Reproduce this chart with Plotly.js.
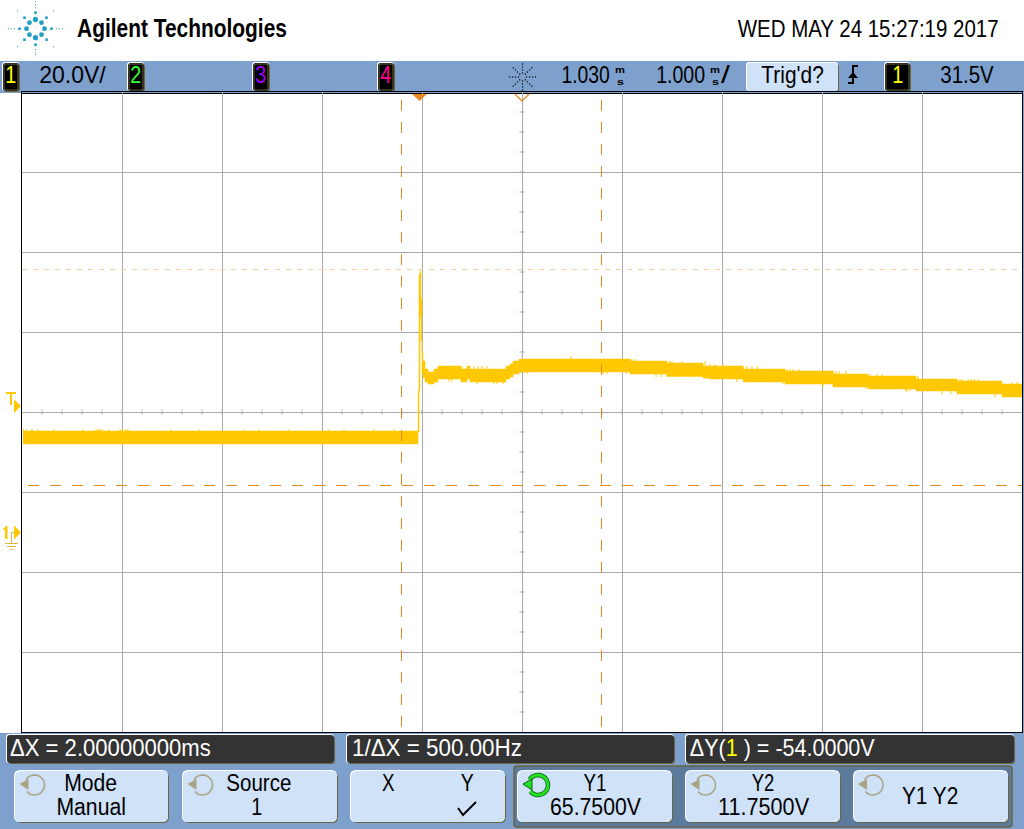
<!DOCTYPE html>
<html><head><meta charset="utf-8">
<script src="https://cdn.plot.ly/plotly-3.0.1.min.js"></script>
<style>html,body{margin:0;padding:0;background:#fff}#c{width:1024px;height:829px}</style>
</head><body><div id="c"></div>
<script>
// ---- waveform envelope (ms relative to trigger, volts) ----
var envTimes=[-3.96,-0.01,0,0.01,0.02,0.03,0.04,0.06,0.09,0.15,0.19,0.42,0.48,0.51,0.87,0.91,0.94,1.00,2.11,2.48,2.84,2.91,3.24,3.66,4.14,4.49,4.97,5.38,5.83,6.03];
var envHigh=[25.25,35.25,64.5,65.25,58.25,44.75,42.75,40.75,40,40.75,41.5,40.75,41.5,40.75,41.5,42,42.75,43.25,42.75,42.25,41.5,41.5,40.75,40.25,39.5,39,38.25,37.75,37,37];
var envLow=[22,25,35.25,54,47.75,39.75,38.5,37.5,37,37.5,38.25,37.5,38.25,37.5,38.25,38.75,39.5,40,39.5,38.9,38.5,38.25,37.5,37,36.25,35.75,35.25,34.5,33.75,33.75];
var spikeTimes=[-3.955,-3.93,-3.87,-3.81,-3.65,-3.36,-3.23,-3.21,-3.19,-3.17,-3.10,-2.99,-2.97,-2.93,-2.91,-2.48,-2.2,-1.75,-1.6,-1.3,-0.9,-0.75,-0.45,-0.25,
 0.43,0.55,0.59,0.63,0.68,0.30,0.33,0.58,0.75,0.78,0.84,
 1.52,2.12,2.16,2.43,2.46,2.51,2.53,2.63,2.86,
 1.08,1.84,1.88,2.07,2.12,2.16,2.37,2.42,2.48,2.53,2.88,2.90,
 2.91,2.96,3.04,3.24,3.28,3.33,3.38,3.68,3.71,3.74,3.80,4.14,4.17,4.20,4.27,4.51,4.58,4.63,
 3.18,3.25,3.27,3.64,3.70,3.74,3.80,4.04,4.47,4.51,4.57,4.61,4.88,
 4.99,5.38,5.41,5.43,5.49,5.52,5.55,5.59,5.93,5.98,
 4.87,4.91,4.98,5.04,5.23,5.32,5.39,5.42,5.76];
var spikeTips=[25.75,25.75,25.75,25.75,25.75,25.75,25.75,25.75,25.75,25.75,25.75,25.75,25.75,25.75,25.75,25.75,25.75,25.75,25.75,25.75,25.75,25.75,25.75,25.75,
 41.5,41.5,41.5,41.5,41.5,37.6,37.6,37,37,37,37,
 44,43.25,43.25,42.75,42.75,42.75,42.75,42.75,42.75,
 39.5,39.5,39.5,39.5,39.5,39.5,38.75,38.75,38.75,38.75,38.25,38.25,
 42,42,42,41.5,41.5,41.5,41.5,40.75,40.75,40.75,40.75,40.25,40.25,40.25,40.25,39.5,39.5,39.5,
 37.5,37.5,37.5,37,37,37,37,36.25,35.75,35.75,35.75,35.75,35,
 39,38.25,38.25,38.25,38.25,38.25,38.25,38.25,37.5,37.5,
 35.25,35.25,35.25,35.25,34.5,34.5,34.5,34.5,33.75];
// ---- instrument settings ----
var cursorTimes=[-0.175,1.825];
var cursorLevels=[65.75,11.75];
var header="Agilent Technologies";
var dateText="WED MAY 24 15:27:19 2017";
var scaleText="20.0V/";
var delayText="1.030";
var timeDivText="1.000";
var trigState="Trig'd?";
var levelText="31.5V";
var readouts=["\u0394X = 2.00000000ms","1/\u0394X = 500.00Hz","\u0394Y(<span style='color:#ffff00'>1</span> ) = -54.0000V"];
var softkeys=[["Mode","Manual"],["Source","1"],["X","Y"],["Y1","65.7500V"],["Y2","11.7500V"],["Y1 Y2",""]];

// ---- pixel helpers for the instrument chrome ----
var L=22,T=92,W=1000,H=640;
function X(p){return (p-L)/W;}
function Y(p){return (T+H-p)/H;}
var BLUE="#7da0cd",BTN="#cfe2f8",TAN="#a8a484",OLIVE="#6b6440",ORANGE="#e8891e",YEL="#ffc800",GRID="#aaaaaa";
var FONT="Liberation Sans";
var shapes=[],notes=[],lens=[];
function rect(x0,y0,x1,y1,fill){shapes.push({type:"rect",xref:"paper",yref:"paper",x0:X(x0),x1:X(x1),y0:Y(y0),y1:Y(y1),fillcolor:fill,line:{width:0},layer:"below"});}
function P(x,y){return X(x)+","+Y(y);}
function round(x0,y0,x1,y1,r){return "M"+P(x0+r,y0)+"L"+P(x1-r,y0)+"Q"+P(x1,y0)+" "+P(x1,y0+r)+"L"+P(x1,y1-r)+"Q"+P(x1,y1)+" "+P(x1-r,y1)+"L"+P(x0+r,y1)+"Q"+P(x0,y1)+" "+P(x0,y1-r)+"L"+P(x0,y0+r)+"Q"+P(x0,y0)+" "+P(x0+r,y0)+"Z";}
function path(d,fill,line,w,layer){shapes.push({type:"path",xref:"paper",yref:"paper",path:d,fillcolor:fill||"rgba(0,0,0,0)",line:{color:line||"rgba(0,0,0,0)",width:w||0},layer:layer||"below"});}
function box(x0,y0,x1,y1,fill,r){
  path(round(x0+1,y0+1,x1+1,y1+1,r),OLIVE);
  path(round(x0-1,y0-1,x1,y1,r),"#ffffff");
  path(round(x0,y0,x1,y1,r),fill);
}
function dot(x,y,r,c){shapes.push({type:"circle",xref:"paper",yref:"paper",x0:X(x-r),x1:X(x+r),y0:Y(y-r),y1:Y(y+r),fillcolor:c,line:{width:0},layer:"below"});}
// text is placed by its left/right pixel extents; glyphs get condensed to fit
function txt(s,l,r,y,size,color,bold){
  notes.push({text:bold?"<b>"+s+"</b>":s,xref:"paper",yref:"paper",x:X((l+r)/2),y:Y(y),xanchor:"center",yanchor:"middle",showarrow:false,borderpad:0,font:{family:FONT,size:size,color:color||"#000"}});
  lens.push(r-l);
}
function arrowIcon(cx,cy,color,w,under){
  var d="";
  for(var a=-140;a<=150;a+=12){var t=a*Math.PI/180;d+=(d?"L":"M")+P(cx+10*Math.cos(t),cy-10*Math.sin(t));}
  if(under)path(d,null,under,w+1.5);
  path(d,null,color,w);
  path("M"+P(cx-15,cy-1)+"L"+P(cx-6,cy-6)+"L"+P(cx-6,cy+5)+"Z",color,under,under?1:0);
}

// page blocks
rect(0,61,1024,93,BLUE);
rect(0,733,1024,829,BLUE);
rect(1023,92,1024,733,BLUE);

// header logo
var teal="#1f9fc6";
[[0,-9.3],[6,-6],[9,0],[6,6],[0,9],[-6,6],[-9,0],[-6,-6]].forEach(function(o){dot(35.5+o[0],28.7+o[1],o[0]===0?2.6:2.4,teal);});
[[0,-16],[11,-11],[16,0],[11,11],[0,16],[-11,11],[-16,0],[-11,-11]].forEach(function(o){rect(35.5+o[0]-1.3,28.7+o[1]-1.3,35.5+o[0]+1.3,28.7+o[1]+1.3,teal);});
[[-18,-18],[18,-18],[-18,18],[18,18],[0,-21],[0,-24],[0,-27],[0,21],[0,24],[0,26],[-21,0],[-24,0],[-27,0],[21,0],[24,0],[27,0]].forEach(function(o){rect(35.5+o[0]-.5,28.7+o[1]-.5,35.5+o[0]+.5,28.7+o[1]+.5,teal);});
txt(header,77,287,27.8,26.5,"#000",true);
txt(dateText,737,998,28.7,24.5);

// top status line
function chip(x0,x1,label,color){box(x0,63,x1,91,"#000",3);path(round(x0+1,64,x1-1,90,2),"#000",OLIVE,1);var c=(x0+x1)/2;txt(label,c-5.5,c+5.5,75,24.5,color);}
chip(3,19,"1","#ffff00");
chip(128,144,"2","#33ff33");
chip(253,269,"3","#a000ff");
chip(378,394,"4","#ff0090");
chip(885,910,"1","#ffff00");
txt(scaleText,39.5,106,75,24.5);
txt(delayText,561.5,610,75,24.5);
txt("m",615,625,70,9,"#000",true);
txt("s",616.5,623.5,81.5,9,"#000",true);
txt(timeDivText,656,705,75,24.5);
txt("m",710,720,70,9,"#000",true);
txt("s",711.5,718.5,81.5,9,"#000",true);
txt("/",721,730,75,24.5);
box(747,63,838,91,BTN,3);
txt(trigState,761.5,824,75,24.5);
txt(levelText,940.5,994,75,24.5);
// sample-rate star icon
for(var a=0;a<8;a++){var th=a*Math.PI/4;[4,7,10,13].forEach(function(r){rect(522.5+r*Math.cos(th)-.6,77+r*Math.sin(th)-.6,522.5+r*Math.cos(th)+.6,77+r*Math.sin(th)+.6,"#000");});}
// trigger slope icon
path("M"+P(848,83)+"L"+P(853,83)+"L"+P(853,66)+"L"+P(858,66),null,"#000",2);
path("M"+P(848,78)+"L"+P(853,72)+"L"+P(858,78)+"Z","#000");

// waveform-area markers
rect(21,93,1023,94,"#000");
path("M"+P(412,94)+"L"+P(427,94)+"L"+P(419.5,101)+"Z",ORANGE,null,0,"above");
path("M"+P(515,94)+"L"+P(522,101)+"L"+P(529,94),null,ORANGE,1.3,"above");
rect(6,392,16,394,YEL);rect(10,394,12,405,YEL);
path("M"+P(14,399.5)+"L"+P(21,406)+"L"+P(14,413)+"Z",YEL);
rect(5,526,7.5,539,YEL);rect(3.5,528,5,530,YEL);
path("M"+P(14,525.5)+"L"+P(21,532.5)+"L"+P(14,539.5)+"Z",YEL);
path("M"+P(14,532.5)+"L"+P(11.5,532.5)+"L"+P(11.5,543)+"M"+P(5,543.5)+"L"+P(18,543.5)+"M"+P(7,546.5)+"L"+P(16,546.5)+"M"+P(10,549.5)+"L"+P(13,549.5),null,"#e0b840",1);

// readout bars
box(7,735,334,763,"#333333",3);txt(readouts[0],10,211,747.5,24.5,"#fff");
box(347,735,674,763,"#333333",3);txt(readouts[1],352,522,747.5,24.5,"#fff");
box(686,735,1014,763,"#333333",3);txt(readouts[2],690,875,747.5,24.5,"#fff");

// softkeys
path(round(514,766,1012,827,3),"#5b7a9c",OLIVE,1.5);
var keyX=[[15,168],[183,337],[351,505],[518,672],[686,840],[854,1008]];
keyX.forEach(function(k){box(k[0],771,k[1],822,BTN,6);});
arrowIcon(34.5,785,TAN,1.5);
txt(softkeys[0][0],64,117,782.7,24.5);txt(softkeys[0][1],56.5,126,806.7,24.5);
arrowIcon(202.5,785,TAN,1.5);
txt(softkeys[1][0],226.5,291.5,782.7,24.5);txt(softkeys[1][1],251,262,806.7,24.5);
txt(softkeys[2][0],381.5,394,782.7,24.5);txt(softkeys[2][1],460,473,782.7,24.5);
path("M"+P(458,808)+"L"+P(463,815)+"L"+P(476,802),null,"#000",2);
arrowIcon(538,785,"#22e022",3,"#0a6010");
txt(softkeys[3][0],583,606,782.7,24.5);txt(softkeys[3][1],550,641,806.7,24.5);
arrowIcon(705.5,785,TAN,1.5);
txt(softkeys[4][0],751.5,774,782.7,24.5);txt(softkeys[4][1],718,809,806.7,24.5);
arrowIcon(873,785,TAN,1.5);
txt(softkeys[5][0],901.5,958,795.5,24.5);

// minor ticks on the two centre graticule lines
var tickD="";
for(var k2=-3.97+0.2;k2<6.03;k2+=0.2){tickD+="M"+k2.toFixed(3)+",29.4L"+k2.toFixed(3)+",30.6";}
for(var v=-45;v<110;v+=5){tickD+="M1.005,"+v+"L1.055,"+v;}
shapes.push({type:"path",xref:"x",yref:"y",path:tickD,line:{color:GRID,width:1},layer:"below"});
// cursors
cursorTimes.forEach(function(t){shapes.push({type:"line",xref:"x",yref:"paper",x0:t,x1:t,y0:Y(100),y1:0,line:{color:ORANGE,width:1,dash:"11px,11px"},layer:"above"});});
shapes.push({type:"line",xref:"paper",yref:"y",x0:0,x1:1,y0:cursorLevels[0]-0.125,y1:cursorLevels[0]-0.125,line:{color:"#fbcf9c",width:1,dash:"5px,6px"},layer:"above"});
shapes.push({type:"line",xref:"paper",yref:"y",x0:0.006,x1:1,y0:cursorLevels[1]-0.125,y1:cursorLevels[1]-0.125,line:{color:ORANGE,width:1,dash:"11px,11px"},layer:"above"});

// ---- traces ----
function bandAt(t){var i=0;while(i<envTimes.length-1&&envTimes[i+1]<=t)i++;return (envHigh[i]+envLow[i])/2;}
var sx=[],sy=[];
spikeTimes.forEach(function(t,i){sx.push(t,t,null);sy.push(spikeTips[i],bandAt(t),null);});
var traces=[
 {x:envTimes,y:envLow,mode:"lines",line:{color:YEL,width:0.5,shape:"hv"},hoverinfo:"skip",showlegend:false},
 {x:envTimes,y:envHigh,mode:"lines",line:{color:YEL,width:0.5,shape:"hv"},fill:"tonexty",fillcolor:YEL,hoverinfo:"skip",showlegend:false},
 {x:sx,y:sy,mode:"lines",line:{color:YEL,width:1},hoverinfo:"skip",showlegend:false,connectgaps:false}
];
var axisBase={showticklabels:false,ticks:"",zeroline:false,showgrid:true,gridcolor:GRID,gridwidth:1,showline:true,mirror:true,linecolor:"#000",linewidth:1};
var layout={
 width:1024,height:829,margin:{l:L,r:1024-L-W,t:T,b:829-T-H,pad:0},
 paper_bgcolor:"#fff",plot_bgcolor:"#fff",showlegend:false,
 xaxis:Object.assign({},axisBase,{range:[-3.97,6.03],tick0:0.03,dtick:1}),
 yaxis:Object.assign({},axisBase,{range:[-50,110],tick0:30,dtick:20}),
 shapes:shapes,annotations:notes,hovermode:false
};
Plotly.newPlot("c",traces,layout,{staticPlot:true,displayModeBar:false}).then(function(){
  document.querySelectorAll("#c .annotation").forEach(function(g){
    var i=+g.getAttribute("data-index"),t=g.querySelector("text.annotation-text");
    if(t&&lens[i]){
      var s=lens[i]/t.getComputedTextLength();
      t.style.transformBox="fill-box";
      t.style.transformOrigin="center";
      t.style.transform="scaleX("+s+")";
    }
  });
});
</script></body></html>
